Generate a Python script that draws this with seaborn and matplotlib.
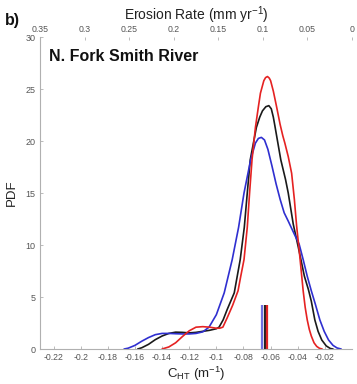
import matplotlib
matplotlib.use("Agg")
import matplotlib.pyplot as plt
import seaborn as sns
import pandas as pd

# Hilltop curvature PDFs, N. Fork Smith River
red_x = [-0.140, -0.135, -0.130, -0.125, -0.120, -0.115, -0.110, -0.105, -0.100, -0.0975,
         -0.0952, -0.092, -0.088, -0.084, -0.082, -0.0796, -0.0772, -0.0755, -0.0737, -0.0712,
         -0.0690, -0.0675, -0.065, -0.0637, -0.0623, -0.0610, -0.060, -0.058, -0.0556, -0.053,
         -0.0510, -0.0495, -0.047, -0.0445, -0.0425, -0.0408, -0.039, -0.0375, -0.036, -0.0345,
         -0.033, -0.0315, -0.030, -0.028, -0.026, -0.024, -0.022]
red_y = [0, 0.2, 0.6, 1.2, 1.75, 2.1, 2.15, 2.1, 2.0, 2.0,
         2.1, 3.0, 4.2, 5.6, 7.0, 8.6, 11.7, 15.0, 18.2, 21.3,
         23.3, 24.6, 25.8, 26.1, 26.2, 26.05, 25.8, 24.8, 23.3, 21.6,
         20.5, 19.8, 18.5, 16.9, 14.4, 11.8, 9.6, 7.6, 5.6, 4.0,
         2.8, 1.9, 1.25, 0.6, 0.25, 0.07, 0]

black_x = [-0.158, -0.155, -0.150, -0.145, -0.140, -0.135, -0.130, -0.125, -0.120, -0.115,
           -0.110, -0.105, -0.100, -0.098, -0.095, -0.092, -0.0868, -0.0824, -0.0794, -0.0772,
           -0.075, -0.0705, -0.0680, -0.066, -0.0635, -0.0613, -0.0595, -0.0580, -0.0569, -0.0525,
           -0.049, -0.047, -0.0433, -0.0396, -0.0351, -0.0321, -0.030, -0.0274, -0.025, -0.0223,
           -0.019, -0.016, -0.014]
black_y = [0, 0.12, 0.45, 0.9, 1.25, 1.5, 1.62, 1.6, 1.55, 1.6,
           1.7, 1.8, 1.95, 2.1, 2.8, 3.8, 5.4, 8.6, 11.7, 15.0,
           18.2, 21.3, 22.3, 22.9, 23.3, 23.4, 23.1, 22.3, 21.5, 18.2,
           16.3, 15.0, 12.0, 9.8, 7.0, 5.7, 4.6, 2.8, 1.7, 0.87,
           0.3, 0.05, 0]

blue_x = [-0.168, -0.165, -0.160, -0.155, -0.150, -0.145, -0.140, -0.135, -0.130, -0.125,
          -0.120, -0.115, -0.110, -0.1054, -0.100, -0.0942, -0.0883, -0.0836, -0.0796, -0.0747,
          -0.0712, -0.0690, -0.0668, -0.0645, -0.062, -0.059, -0.056, -0.053, -0.050, -0.047,
          -0.0445, -0.042, -0.039, -0.036, -0.033, -0.030, -0.027, -0.0237, -0.0205, -0.0173,
          -0.014, -0.011, -0.008]
blue_y = [0, 0.08, 0.35, 0.75, 1.1, 1.38, 1.5, 1.5, 1.47, 1.45,
          1.45, 1.5, 1.65, 2.1, 3.3, 5.4, 8.6, 11.7, 15.0, 18.2,
          19.8, 20.25, 20.35, 20.1, 19.2, 17.6, 15.9, 14.4, 13.1, 12.3,
          11.6, 10.9, 10.1, 8.6, 7.0, 5.6, 4.3, 2.8, 1.7, 0.87,
          0.35, 0.1, 0]

# median markers (blue, black, red)
median_x = [-0.0663, -0.0643, -0.0628]
median_h = [4.2, 4.2, 4.2]
median_colors = ["#6f6fe0", "#222222", "#e02424"]

x_ticks = [-0.22, -0.2, -0.18, -0.16, -0.14, -0.12, -0.1, -0.08, -0.06, -0.04, -0.02]
x_tick_labels = ["-0.22", "-0.2", "-0.18", "-0.16", "-0.14", "-0.12", "-0.1",
                 "-0.08", "-0.06", "-0.04", "-0.02"]
y_ticks = [0, 5, 10, 15, 20, 25, 30]
top_ticks = [0.35, 0.3, 0.25, 0.2, 0.15, 0.1, 0.05, 0]
top_tick_labels = ["0.35", "0.3", "0.25", "0.2", "0.15", "0.1", "0.05", "0"]

sns.set_theme(style="white")
plt.rcParams["font.family"] = ["Liberation Sans", "DejaVu Sans"]
plt.rcParams["mathtext.default"] = "regular"
plt.rcParams["lines.solid_joinstyle"] = "round"

fig = plt.figure(figsize=(3.57, 3.84), dpi=100)
ax = fig.add_axes([0.112, 0.0911, 0.874, 0.8125])

curves = pd.concat([
    pd.DataFrame({"c": black_x, "pdf": black_y, "set": "black"}),
    pd.DataFrame({"c": blue_x, "pdf": blue_y, "set": "blue"}),
    pd.DataFrame({"c": red_x, "pdf": red_y, "set": "red"}),
])
palette = {"black": "#1a1a1a", "blue": "#2f2fd0", "red": "#e52222"}
sns.lineplot(data=curves, x="c", y="pdf", hue="set", palette=palette,
             estimator=None, sort=False, linewidth=1.2, legend=False, ax=ax)

for mx, mh, mc in zip(median_x, median_h, median_colors):
    ax.vlines(mx, 0, mh, color=mc, linewidth=1.6)

ax.set_xlim(-0.23, 0)
ax.set_ylim(0, 30)
ax.set_xticks(x_ticks)
ax.set_xticklabels(x_tick_labels)
ax.set_yticks(y_ticks)

grey = "#555555"
spine_c = "#b0b0b0"
for side in ["top", "right"]:
    ax.spines[side].set_visible(False)
for side in ["left", "bottom"]:
    ax.spines[side].set_color(spine_c)
    ax.spines[side].set_linewidth(0.8)
ax.tick_params(axis="both", direction="in", length=2.5, width=0.6, color=spine_c,
               labelcolor=grey, labelsize=6.5, pad=3)
ax.tick_params(axis="x", bottom=True, labelsize=6.3)
ax.tick_params(axis="y", left=True)

ax.set_xlabel("C$_{HT}$ (m$^{-1}$)", fontsize=9.5, color="#222222", labelpad=2)
ax.set_ylabel("PDF", fontsize=9.5, color="#222222", labelpad=6)

top = ax.twiny()
top.set_xlim(0.35, 0)
top.set_xticks(top_ticks)
top.set_xticklabels(top_tick_labels)
for side in ["top", "right", "left", "bottom"]:
    top.spines[side].set_visible(False)
top.tick_params(axis="x", top=True, direction="in", length=2.5, width=0.6, color=spine_c,
                labelcolor=grey, labelsize=6.3, pad=2)
top.set_xlabel("Erosion Rate (mm yr$^{-1}$)", fontsize=10, color="#222222", labelpad=4)

ax.text(0.03, 0.96, "N. Fork Smith River", transform=ax.transAxes,
        fontsize=11.5, fontweight="bold", color="#111111", va="top", ha="left")
fig.text(0.015, 0.965, "b)", fontsize=11.5, fontweight="bold", color="#111111",
         va="top", ha="left")

fig.savefig("out.png", dpi=100)
